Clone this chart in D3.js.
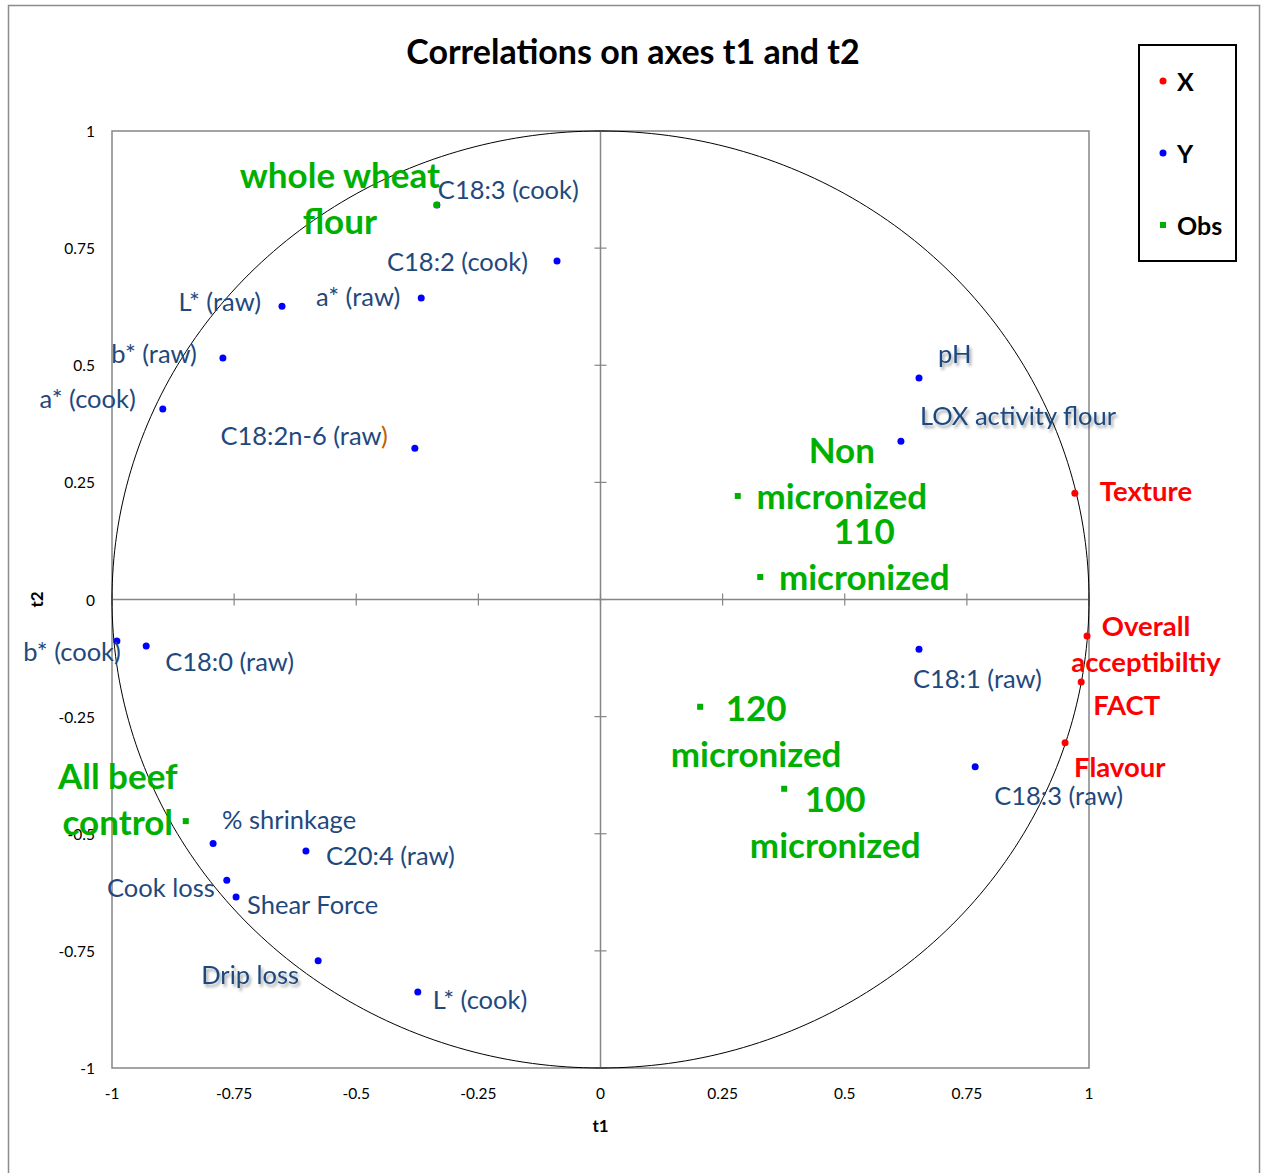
<!DOCTYPE html>
<html>
<head>
<meta charset="utf-8">
<script src="https://cdn.jsdelivr.net/npm/d3@7"></script>
<style>
  html, body { margin: 0; padding: 0; background: #fff; }
  svg { display: block; font-family: Lato, "Open Sans", sans-serif; }
</style>
</head>
<body>
<svg id="chart" width="1262" height="1173"></svg>
<script>
// Correlation circle: variables (X, Y) and observations projected on t1 / t2
const xVarNames = ["Texture", "Overall acceptibiltiy", "FACT", "Flavour"];
const xVarT1 = [0.971, 0.996, 0.984, 0.951];
const xVarT2 = [0.227, -0.078, -0.176, -0.306];

const yVarNames = ["C18:3 (cook)", "C18:2 (cook)", "a* (raw)", "L* (raw)", "b* (raw)", "a* (cook)",
  "C18:2n-6 (raw)", "pH", "LOX activity flour", "C18:1 (raw)", "C18:3 (raw)", "b* (cook)",
  "C18:0 (raw)", "% shrinkage", "C20:4 (raw)", "Cook loss", "Shear Force", "Drip loss", "L* (cook)"];
const yVarT1 = [-0.335, -0.089, -0.367, -0.652, -0.773, -0.896, -0.380, 0.652, 0.615, 0.652, 0.767,
  -0.990, -0.930, -0.793, -0.603, -0.765, -0.746, -0.578, -0.374];
const yVarT2 = [0.842, 0.7225, 0.6435, 0.626, 0.5155, 0.4065, 0.323, 0.473, 0.338, -0.106, -0.357,
  -0.0886, -0.099, -0.521, -0.537, -0.599, -0.635, -0.771, -0.838];

const obsNames = ["whole wheat flour", "Non micronized", "110 micronized", "120 micronized",
  "100 micronized", "All beef control"];
const obsLines = [["whole wheat", "flour"], ["Non", "micronized"], ["110", "micronized"],
  ["120", "micronized"], ["100", "micronized"], ["All beef", "control"]];
const obsT1 = [-0.335, 0.281, 0.327, 0.204, 0.376, -0.849];
const obsT2 = [0.842, 0.221, 0.048, -0.229, -0.404, -0.473];

const tickValues = [-1, -0.75, -0.5, -0.25, 0, 0.25, 0.5, 0.75, 1];
const tickLabels = ["-1", "-0.75", "-0.5", "-0.25", "0", "0.25", "0.5", "0.75", "1"];

// label placement (pixel offsets from each mark)
const yLabelPos = {
  "C18:3 (cook)": ["start", 1, -16],
  "C18:2 (cook)": ["end", -29, 0],
  "a* (raw)": ["end", -21, -2],
  "L* (raw)": ["end", -21, -5],
  "b* (raw)": ["end", -26, -5],
  "a* (cook)": ["end", -27, -11],
  "C18:2n-6 (raw)": ["end", -27, -13],
  "pH": ["start", 19, -25],
  "LOX activity flour": ["start", 19, -26],
  "C18:1 (raw)": ["start", -6, 29],
  "C18:3 (raw)": ["start", 19, 28],
  "b* (cook)": ["end", 4, 10],
  "C18:0 (raw)": ["start", 19, 15],
  "% shrinkage": ["start", 9, -25],
  "C20:4 (raw)": ["start", 20, 4],
  "Cook loss": ["end", -12, 7],
  "Shear Force": ["start", 11, 7],
  "Drip loss": ["end", -19, 13],
  "L* (cook)": ["start", 15, 7]
};
const shadowed = new Set(["pH", "LOX activity flour", "Drip loss"]);
const xLabelPos = {
  "Texture": { anchor: "start", dx: 25, dy: -3, lines: ["Texture"] },
  "Overall acceptibiltiy": { anchor: "middle", dx: 59, dy: -11, lines: ["Overall", "acceptibiltiy"] },
  "FACT": { anchor: "start", dx: 12, dy: 23, lines: ["FACT"] },
  "Flavour": { anchor: "start", dx: 9, dy: 24, lines: ["Flavour"] }
};
const obsLabelPos = [[-97, -31], [104, -47], [104, -47], [56, 0], [51, 9], [-68, -46]];

const svg = d3.select("#chart");
const x = d3.scaleLinear().domain([-1, 1]).range([112, 1089]);
const y = d3.scaleLinear().domain([-1, 1]).range([1068, 131]);

const defs = svg.append("defs");
const f = defs.append("filter").attr("id", "shadow").attr("x", "-10%").attr("y", "-30%")
  .attr("width", "130%").attr("height", "180%");
f.append("feDropShadow").attr("dx", 2).attr("dy", 3).attr("stdDeviation", 1.6)
  .attr("flood-color", "#000").attr("flood-opacity", 0.35);

// outer frame
svg.append("rect").attr("x", 8.5).attr("y", 5.5).attr("width", 1251).attr("height", 1180)
  .attr("fill", "none").attr("stroke", "#8c8c8c").attr("stroke-width", 1.5);

// title
svg.append("text").attr("x", 633).attr("y", 50).attr("text-anchor", "middle")
  .attr("dominant-baseline", "central").attr("font-weight", "bold").attr("font-size", 34)
  .text("Correlations on axes t1 and t2");

const axisColor = "#868686";
// plot frame
svg.append("rect").attr("x", x(-1)).attr("y", y(1)).attr("width", x(1) - x(-1))
  .attr("height", y(-1) - y(1)).attr("fill", "none").attr("stroke", axisColor).attr("stroke-width", 1.5);

// axes through the origin with crossing ticks
svg.append("line").attr("x1", x(-1)).attr("x2", x(1)).attr("y1", y(0)).attr("y2", y(0))
  .attr("stroke", axisColor).attr("stroke-width", 1.5);
svg.append("line").attr("x1", x(0)).attr("x2", x(0)).attr("y1", y(-1)).attr("y2", y(1))
  .attr("stroke", axisColor).attr("stroke-width", 1.5);
svg.append("g").selectAll("line").data(tickValues).join("line")
  .attr("x1", d => x(d)).attr("x2", d => x(d)).attr("y1", y(0) - 6).attr("y2", y(0) + 6)
  .attr("stroke", axisColor).attr("stroke-width", 1.2);
svg.append("g").selectAll("line").data(tickValues).join("line")
  .attr("y1", d => y(d)).attr("y2", d => y(d)).attr("x1", x(0) - 6).attr("x2", x(0) + 6)
  .attr("stroke", axisColor).attr("stroke-width", 1.2);

// tick labels
svg.append("g").selectAll("text").data(tickValues).join("text")
  .attr("x", d => x(d)).attr("y", 1093).attr("text-anchor", "middle")
  .attr("dominant-baseline", "central").attr("font-size", 15.5)
  .text((d, i) => tickLabels[i]);
svg.append("g").selectAll("text").data(tickValues).join("text")
  .attr("x", 95).attr("y", d => y(d)).attr("text-anchor", "end")
  .attr("dominant-baseline", "central").attr("font-size", 15.5)
  .text((d, i) => tickLabels[i]);

// axis titles
svg.append("text").attr("x", x(0)).attr("y", 1125).attr("text-anchor", "middle")
  .attr("dominant-baseline", "central").attr("font-weight", "bold").attr("font-size", 17).text("t1");
svg.append("text").attr("transform", `translate(36,${y(0)}) rotate(-90)`).attr("text-anchor", "middle")
  .attr("dominant-baseline", "central").attr("font-weight", "bold").attr("font-size", 17).text("t2");

// unit correlation circle
const angles = d3.range(0, 361, 1).map(a => a * Math.PI / 180);
svg.append("path").datum(angles)
  .attr("d", d3.line().x(a => x(Math.cos(a))).y(a => y(Math.sin(a))))
  .attr("fill", "none").attr("stroke", "#000").attr("stroke-width", 1);

// Y variables
const blueText = "#1f497d";
const yData = yVarNames.map((n, i) => ({ name: n, t1: yVarT1[i], t2: yVarT2[i] }));
svg.append("g").selectAll("circle").data(yData).join("circle")
  .attr("cx", d => x(d.t1)).attr("cy", d => y(d.t2)).attr("r", 3.5).attr("fill", "#0000ff");
const yLab = svg.append("g").selectAll("text").data(yData).join("text")
  .attr("x", d => x(d.t1) + yLabelPos[d.name][1])
  .attr("y", d => y(d.t2) + yLabelPos[d.name][2])
  .attr("text-anchor", d => yLabelPos[d.name][0])
  .attr("dominant-baseline", "central").attr("font-size", 25.5).attr("fill", blueText)
  .attr("filter", d => shadowed.has(d.name) ? "url(#shadow)" : null);
yLab.each(function (d) {
  const t = d3.select(this);
  if (d.name === "C18:2n-6 (raw)") {
    t.append("tspan").text("C18:2n-6 (raw");
    t.append("tspan").attr("fill", "#c0600a").text(")");
  } else {
    t.text(d.name);
  }
});

// X variables
const xData = xVarNames.map((n, i) => ({ name: n, t1: xVarT1[i], t2: xVarT2[i] }));
svg.append("g").selectAll("circle").data(xData).join("circle")
  .attr("cx", d => x(d.t1)).attr("cy", d => y(d.t2)).attr("r", 3.5).attr("fill", "#ff0000");
svg.append("g").selectAll("text").data(xData).join("text")
  .attr("text-anchor", d => xLabelPos[d.name].anchor)
  .attr("font-size", 27.5).attr("font-weight", "bold").attr("fill", "#ff0000")
  .each(function (d) {
    const p = xLabelPos[d.name];
    d3.select(this).selectAll("tspan").data(p.lines).join("tspan")
      .attr("x", x(d.t1) + p.dx).attr("y", (l, j) => y(d.t2) + p.dy + j * 36)
      .attr("dominant-baseline", "central").text(l => l);
  });

// observations
const obsData = obsNames.map((n, i) => ({ name: n, lines: obsLines[i], t1: obsT1[i], t2: obsT2[i], pos: obsLabelPos[i] }));
svg.append("g").selectAll("rect").data(obsData).join("rect")
  .attr("x", d => x(d.t1) - 3).attr("y", d => y(d.t2) - 3).attr("width", 6).attr("height", 6)
  .attr("fill", "#00b000");
svg.append("g").selectAll("text").data(obsData).join("text")
  .attr("text-anchor", "middle").attr("font-size", 35).attr("font-weight", "bold").attr("fill", "#00b000")
  .each(function (d) {
    d3.select(this).selectAll("tspan").data(d.lines).join("tspan")
      .attr("x", x(d.t1) + d.pos[0]).attr("y", (l, j) => y(d.t2) + d.pos[1] + j * 46)
      .attr("dominant-baseline", "central").text(l => l);
  });

// legend
const legend = svg.append("g");
legend.append("rect").attr("x", 1139).attr("y", 45).attr("width", 97).attr("height", 216)
  .attr("fill", "#fff").attr("stroke", "#000").attr("stroke-width", 2);
const legendItems = [["X", "#ff0000", "dot"], ["Y", "#0000ff", "dot"], ["Obs", "#00b000", "square"]];
legendItems.forEach(([label, color, shape], i) => {
  const cy = 81 + i * 72;
  if (shape === "dot") {
    legend.append("circle").attr("cx", 1163).attr("cy", cy).attr("r", 3.5).attr("fill", color);
  } else {
    legend.append("rect").attr("x", 1160).attr("y", cy - 3).attr("width", 6).attr("height", 6).attr("fill", color);
  }
  legend.append("text").attr("x", 1177).attr("y", cy).attr("dominant-baseline", "central")
    .attr("font-size", 25).attr("font-weight", "bold").text(label);
});
</script>
</body>
</html>
